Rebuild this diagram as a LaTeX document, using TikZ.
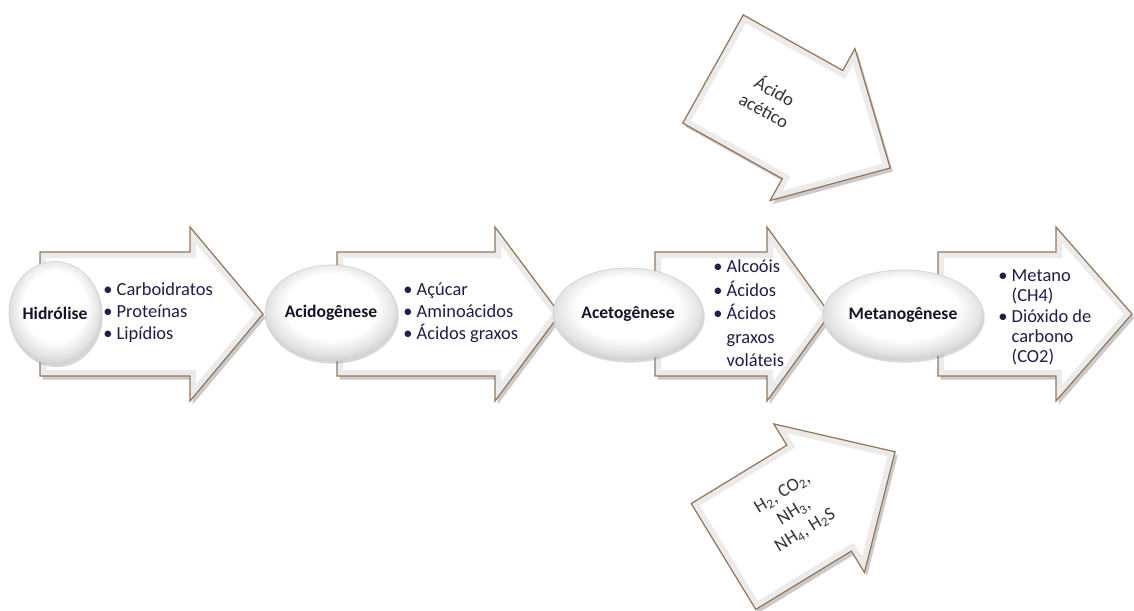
\documentclass[tikz,border=0pt]{standalone}
\usepackage{fontspec}
\setmainfont{Carlito}
\usetikzlibrary{shapes.geometric,shadows}

\definecolor{arrowline}{RGB}{150,118,88}
\definecolor{listtext}{RGB}{30,30,75}
\definecolor{phasetext}{RGB}{20,20,40}

\pgfdeclareradialshading{pearl}{\pgfpoint{0bp}{5bp}}{%
  color(0bp)=(white); color(17bp)=(white); color(24bp)=(gray!22);
  color(29bp)=(gray!45); color(50bp)=(gray!45)}

\tikzset{
  arrowfill/.style={fill=white, drop shadow={shadow xshift=1.5pt, shadow yshift=-2pt, opacity=0.35, fill=black!60}},
  arrowbevel/.style={draw=gray!16, line width=7pt, line join=miter},
  arrowedge/.style={draw=arrowline, line width=0.7pt, line join=miter},
  phase/.style={ellipse, draw=gray!35, shading=pearl, inner sep=0pt, text=phasetext,
    font=\bfseries\fontsize{10}{12}\selectfont,
    drop shadow={shadow xshift=1pt, shadow yshift=-1.5pt, opacity=0.3}},
  items/.style={anchor=west, inner sep=0pt, text=listtext, font=\fontsize{10.5}{12.5}\selectfont},
  gases/.style={inner sep=0pt, align=center, text=black!80, font=\fontsize{10.5}{12.5}\selectfont}
}

% back point, angle, body length, head length
\newcommand{\blockarrow}[4]{%
  \begin{scope}[shift={#1}, rotate=#2]
    \path[arrowfill] (0,62) -- (#3,62) -- (#3,87) -- (#3+#4,0) -- (#3,-87) -- (#3,-62) -- (0,-62) -- cycle;
    \begin{scope}
      \clip (0,62) -- (#3,62) -- (#3,87) -- (#3+#4,0) -- (#3,-87) -- (#3,-62) -- (0,-62) -- cycle;
      \draw[arrowbevel] (0,62) -- (#3,62) -- (#3,87) -- (#3+#4,0) -- (#3,-87) -- (#3,-62) -- (0,-62) -- cycle;
    \end{scope}
    \draw[arrowedge] (0,62) -- (#3,62) -- (#3,87) -- (#3+#4,0) -- (#3,-87) -- (#3,-62) -- (0,-62) -- cycle;
  \end{scope}}

\begin{document}
\begin{tikzpicture}[x=0.02cm, y=0.02cm]
\useasboundingbox (0,0) rectangle (1134,610);

% main chain
\blockarrow{(40,296)}{0}{150}{73}
\blockarrow{(337,296)}{0}{158}{65}
\blockarrow{(655,296)}{0}{112}{63}
\blockarrow{(938,296)}{0}{118}{76}

% side inputs
\blockarrow{(713,541)}{-29.2}{114}{89}
\blockarrow{(723.5,53.5)}{31.4}{112}{89}

\node[gases, rotate=-29.2] (acetico) at (770,510) {Ácido\\acético};
\node[gases, rotate=31.4] (gases) at (794,98) {H\textsubscript{2}, CO\textsubscript{2},\\NH\textsubscript{3},\\NH\textsubscript{4}, H\textsubscript{2}S};

% phases
\node[phase, minimum width=1.84cm, minimum height=2.06cm] (hidrolise) at (55,297) {Hidrólise};
\node[phase, minimum width=2.64cm, minimum height=1.92cm] (acidogenese) at (331,297) {Acidogênese};
\node[phase, minimum width=3.0cm, minimum height=1.84cm] (acetogenese) at (628,296) {Acetogênese};
\node[phase, minimum width=3.2cm, minimum height=1.8cm] (metanogenese) at (903,295) {Metanogênese};

% products
\node[items] (hidrolise-list) at (103,297) {\begin{tabular}{@{}l@{~}l@{}}
  \textbullet & Carboidratos\\ \textbullet & Proteínas\\ \textbullet & Lipídios\end{tabular}};
\node[items] (acidogenese-list) at (403,297) {\begin{tabular}{@{}l@{~}l@{}}
  \textbullet & Açúcar\\ \textbullet & Aminoácidos\\ \textbullet & Ácidos graxos\end{tabular}};
\node[items, font=\fontsize{10.5}{13.3}\selectfont] (acetogenese-list) at (713,295) {\begin{tabular}{@{}l@{~}l@{}}
  \textbullet & Alcoóis\\ \textbullet & Ácidos\\ \textbullet & Ácidos\\ & graxos\\ & voláteis\end{tabular}};
\node[items, font=\fontsize{10.5}{11.6}\selectfont] (metanogenese-list) at (998,292) {\begin{tabular}{@{}l@{~}l@{}}
  \textbullet & Metano\\ & (CH4)\\ \textbullet & Dióxido de\\ & carbono\\ & (CO2)\end{tabular}};

\end{tikzpicture}
\end{document}
